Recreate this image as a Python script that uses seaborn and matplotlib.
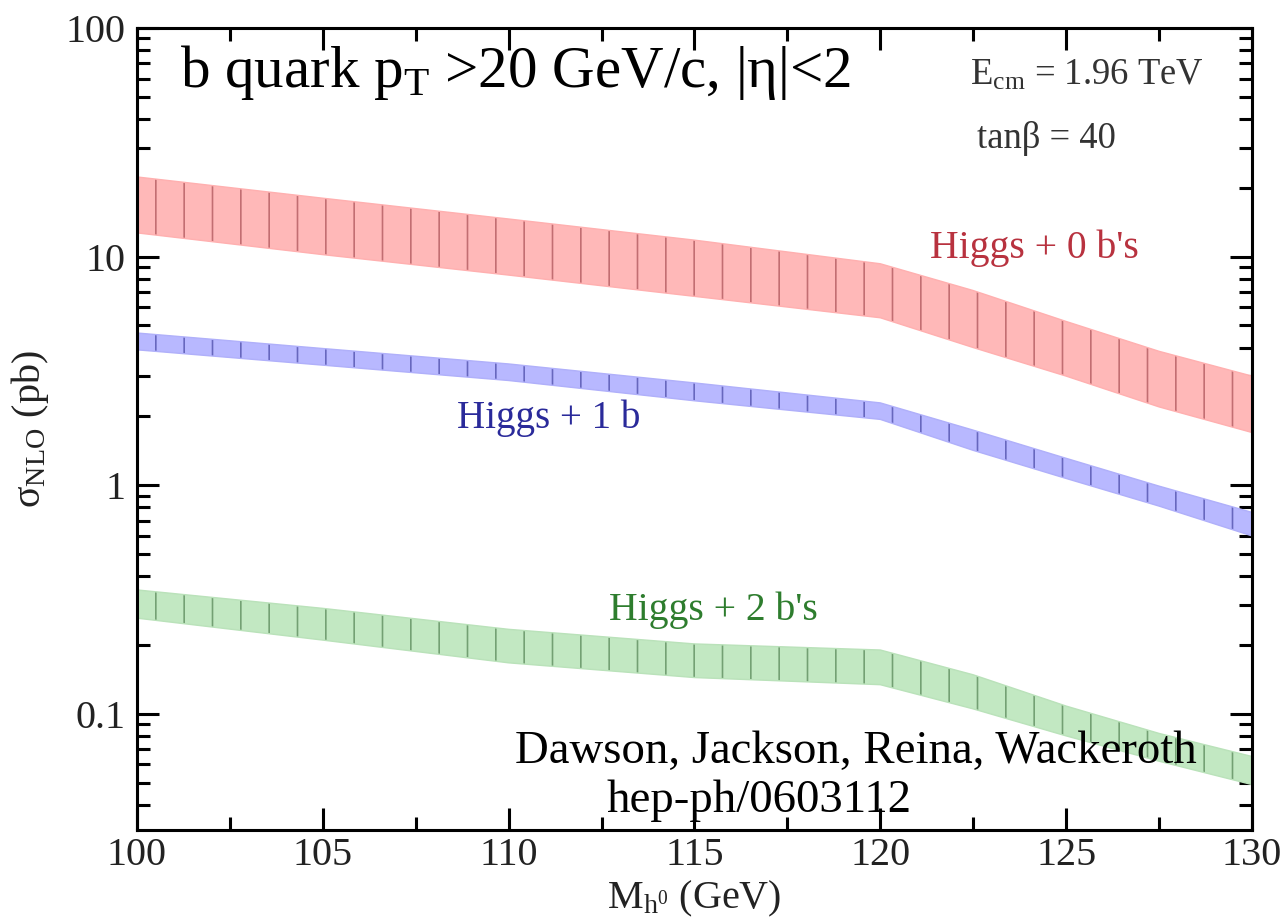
import matplotlib
matplotlib.use('Agg')
import matplotlib.pyplot as plt
import seaborn as sns
import pandas as pd
from matplotlib.ticker import FixedLocator, LogLocator, NullFormatter, MultipleLocator

# ---- data (sigma_NLO in pb vs M_h in GeV) ----
mass = [100, 105, 110, 115, 120, 122.5, 125, 127.5, 130]
h0b_hi = [22.3, 18.0, 14.6, 11.8, 9.3, 7.1, 5.2, 3.85, 3.0]
h0b_lo = [12.7, 10.2, 8.3, 6.7, 5.4, 4.0, 3.0, 2.2, 1.7]
h1b_hi = [4.63, 3.96, 3.39, 2.80, 2.29, 1.74, 1.31, 0.99, 0.76]
h1b_lo = [3.91, 3.35, 2.87, 2.34, 1.94, 1.42, 1.07, 0.81, 0.60]
h2b_hi = [0.348, 0.289, 0.234, 0.202, 0.190, 0.148, 0.108, 0.082, 0.065]
h2b_lo = [0.262, 0.210, 0.167, 0.144, 0.134, 0.105, 0.080, 0.062, 0.049]

y_ticks = [0.1, 1, 10, 100]
y_ticklabels = ['0.1', '1', '10', '100']

sns.set_theme(style='ticks')
plt.rcParams['font.family'] = ['Liberation Serif', 'DejaVu Serif']
plt.rcParams['mathtext.fontset'] = 'custom'
plt.rcParams['mathtext.rm'] = 'Liberation Serif'
plt.rcParams['mathtext.it'] = 'Liberation Serif:italic'
plt.rcParams['mathtext.bf'] = 'Liberation Serif:bold'
plt.rcParams['hatch.linewidth'] = 0.7

DPI = 170
W, H = 1285, 924
fig = plt.figure(figsize=(W / DPI, H / DPI), dpi=DPI)
fig.patch.set_facecolor('white')
L, R, T, B = 137, 1252, 28, 830
ax = fig.add_axes([L / W, 1 - B / H, (R - L) / W, (B - T) / H])
ax.set_facecolor('white')

bands = [
    (h0b_lo, h0b_hi, '#ffb8b8', (0.72, 0.38, 0.40, 0.85), '#ffb0b0'),
    (h1b_lo, h1b_hi, '#b8b8ff', (0.35, 0.35, 0.70, 0.85), '#b0b0fa'),
    (h2b_lo, h2b_hi, '#c2e8c2', (0.40, 0.58, 0.40, 0.85), '#bae2ba'),
]
for lo, hi, fc, hc, ec in bands:
    ax.fill_between(mass, lo, hi, facecolor=fc, edgecolor='none', linewidth=0)
    ax.fill_between(mass, lo, hi, facecolor='none', edgecolor=hc, linewidth=0, hatch='|')
    edge_df = pd.DataFrame({'m': mass * 2, 'v': list(lo) + list(hi),
                            'edge': ['lo'] * len(mass) + ['hi'] * len(mass)})
    sns.lineplot(data=edge_df, x='m', y='v', units='edge', estimator=None,
                 color=ec, lw=0.6, ax=ax, legend=False)

ax.set_yscale('log')
ax.set_xlim(100, 130)
ax.set_ylim(0.031, 100)
ax.yaxis.set_major_locator(FixedLocator(y_ticks))
ax.set_yticklabels(y_ticklabels)
ax.yaxis.set_minor_locator(LogLocator(base=10, subs=range(2, 10)))
ax.yaxis.set_minor_formatter(NullFormatter())
ax.xaxis.set_major_locator(MultipleLocator(5))
ax.xaxis.set_minor_locator(MultipleLocator(2.5))

for s in ax.spines.values():
    s.set_linewidth(1.3)
    s.set_color('black')
ax.tick_params(which='both', direction='in', top=True, right=True,
               width=1.3, color='black', labelsize=17, labelcolor='#222222')
ax.tick_params(which='major', length=9.5)
ax.tick_params(which='minor', length=5.5)
ax.tick_params(axis='y', which='both', pad=5)
ax.tick_params(axis='x', which='both', pad=3)

ax.set_xlabel(r'M$_{\mathrm{h}^{0}}$ (GeV)', fontsize=17, color='#222222', labelpad=2)
ax.set_ylabel(r'σ$_{\mathrm{NLO}}$ (pb)', fontsize=17, color='#222222', labelpad=6)

tr = ax.transAxes
ax.text(0.0386, 0.926, r'b quark p$_{\mathrm{T}}$ >20 GeV/c, |η|<2', transform=tr,
        fontsize=25, color='black', va='baseline', ha='left')
ax.text(0.747, 0.929, r'E$_{\mathrm{cm}}$ = 1.96 TeV', transform=tr,
        fontsize=15.5, color='#333333', va='baseline', ha='left')
ax.text(0.7534, 0.850, 'tanβ = 40', transform=tr,
        fontsize=15.5, color='#333333', va='baseline', ha='left')
ax.text(0.711, 0.713, "Higgs + 0 b's", transform=tr,
        fontsize=16.8, color='#b8323f', va='baseline', ha='left')
ax.text(0.287, 0.501, 'Higgs + 1 b', transform=tr,
        fontsize=16.5, color='#2a2a9a', va='baseline', ha='left')
ax.text(0.423, 0.262, "Higgs + 2 b's", transform=tr,
        fontsize=16.8, color='#2e7d2e', va='baseline', ha='left')
ax.text(0.645, 0.0835, 'Dawson, Jackson, Reina, Wackeroth', transform=tr,
        fontsize=19.8, color='black', va='baseline', ha='center')
ax.text(0.4215, 0.0224, 'hep-ph/0603112', transform=tr,
        fontsize=19.8, color='black', va='baseline', ha='left')

fig.savefig('out.png', dpi=DPI, facecolor='white')
